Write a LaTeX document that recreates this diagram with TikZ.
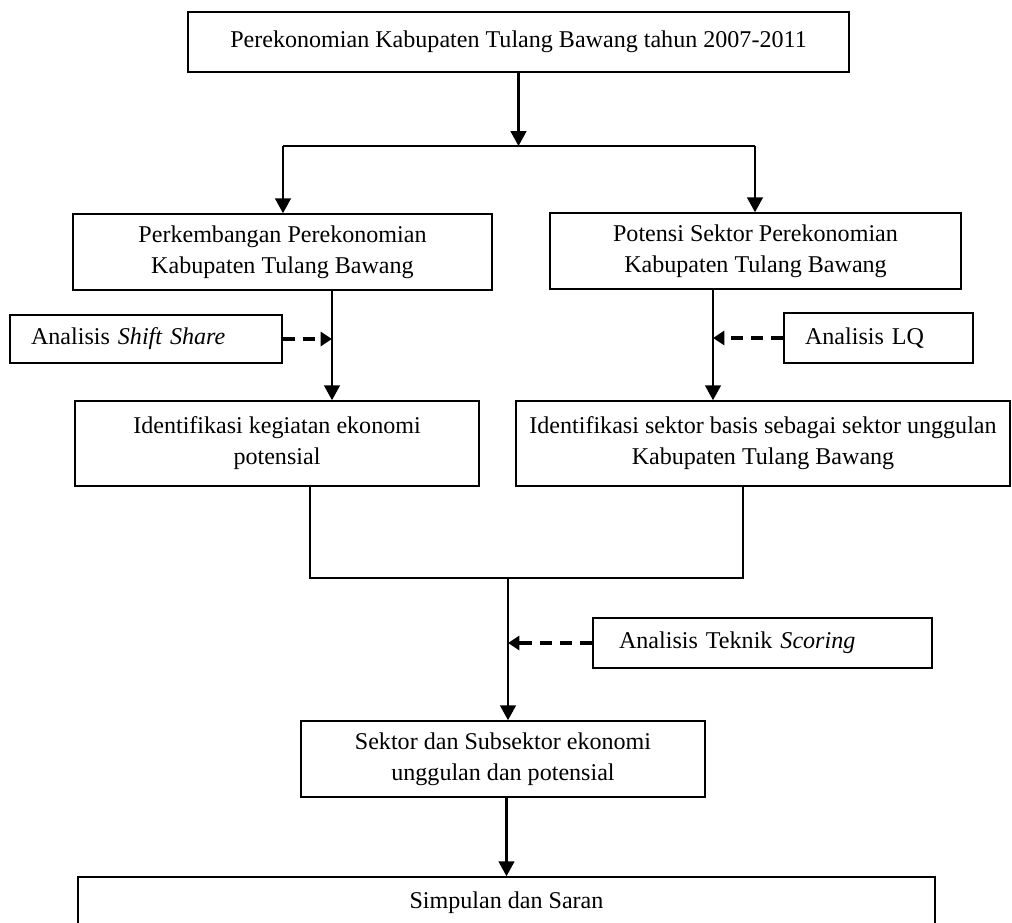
\documentclass[tikz,border=0pt]{standalone}
\usepackage{fontspec}
\setmainfont{Liberation Serif}
\usetikzlibrary{arrows.meta}

\begin{document}
\begin{tikzpicture}[x=0.02cm,y=-0.02cm,
  box/.style={draw,line width=0.9pt,align=center,inner sep=0pt,
    font=\fontsize{13.7}{17.6}\selectfont},
  lbox/.style={draw,line width=0.9pt,align=left,inner xsep=0.42cm,inner ysep=0pt,
    font=\fontsize{13.7}{17.6}\selectfont},
  arr/.style={line width=1.2pt,-{Triangle[length=8.5pt,width=9pt]}},
  dasharr/.style={line width=1.8pt,dash pattern=on 7pt off 4.5pt,
    -{Triangle[length=6.5pt,width=8pt]}}]
\clip (0,0) rectangle (1012,923);

% kotak
\node [box,minimum width=13.22cm,minimum height=1.2cm] (top) at (518.5,42)
  {Perekonomian Kabupaten Tulang Bawang tahun 2007-2011};
\node [box,minimum width=8.38cm,minimum height=1.52cm] (perk) at (282.5,252)
  {Perkembangan Perekonomian\\Kabupaten Tulang Bawang};
\node [box,minimum width=8.22cm,minimum height=1.52cm] (potensi) at (755.5,251)
  {Potensi Sektor Perekonomian\\Kabupaten Tulang Bawang};
\node [lbox,text width=4.6cm,minimum height=0.96cm] (shift) at (146,339)
  {Analisis \textit{Shift Share}};
\node [lbox,text width=2.94cm,minimum height=1cm] (lq) at (878.5,338)
  {Analisis LQ};
\node [box,minimum width=8.08cm,minimum height=1.7cm] (ident1) at (277,443.5)
  {Identifikasi kegiatan ekonomi\\potensial};
\node [box,minimum width=9.88cm,minimum height=1.7cm] (ident2) at (763,443.5)
  {Identifikasi sektor basis sebagai sektor unggulan\\Kabupaten Tulang Bawang};
\node [lbox,inner xsep=0.52cm,text width=5.74cm,minimum height=1cm] (scoring) at (762.5,643)
  {Analisis Teknik \textit{Scoring}};
\node [box,minimum width=8.08cm,minimum height=1.52cm] (sektor) at (503,759)
  {Sektor dan Subsektor ekonomi\\unggulan dan potensial};
\node [box,minimum width=17.14cm,minimum height=1.04cm] (simpulan) at (506.5,903)
  {Simpulan dan Saran};

% titik bantu
\coordinate (fork) at (518.5,146);
\coordinate (forkL) at (283,146);
\coordinate (forkR) at (755,146);
\coordinate (colL) at (332,0);
\coordinate (colR) at (713,0);
\coordinate (joinL) at (310,578);
\coordinate (joinR) at (743,578);
\coordinate (join) at (508,578);

% garis
\draw [arr] (top) -- (fork);
\draw [line width=1.2pt] (forkL) -- (forkR);
\draw [arr] (forkL) -- (forkL |- perk.north);
\draw [arr] (forkR) -- (forkR |- potensi.north);
\draw [arr] (perk.south -| colL) -- (ident1.north -| colL);
\draw [arr] (potensi.south -| colR) -- (ident2.north -| colR);
\draw [dasharr] (shift) -- (shift -| colL);
\draw [dasharr] (lq) -- (lq -| colR);
\draw [line width=1.2pt] (ident1.south -| joinL) -- (joinL) -- (joinR) -- (ident2.south -| joinR);
\draw [arr] (join) -- (sektor.north -| join);
\draw [dasharr] (scoring) -- (scoring -| join);
\draw [arr] (sektor.south -| simpulan.north) -- (simpulan.north);
\end{tikzpicture}
\end{document}
